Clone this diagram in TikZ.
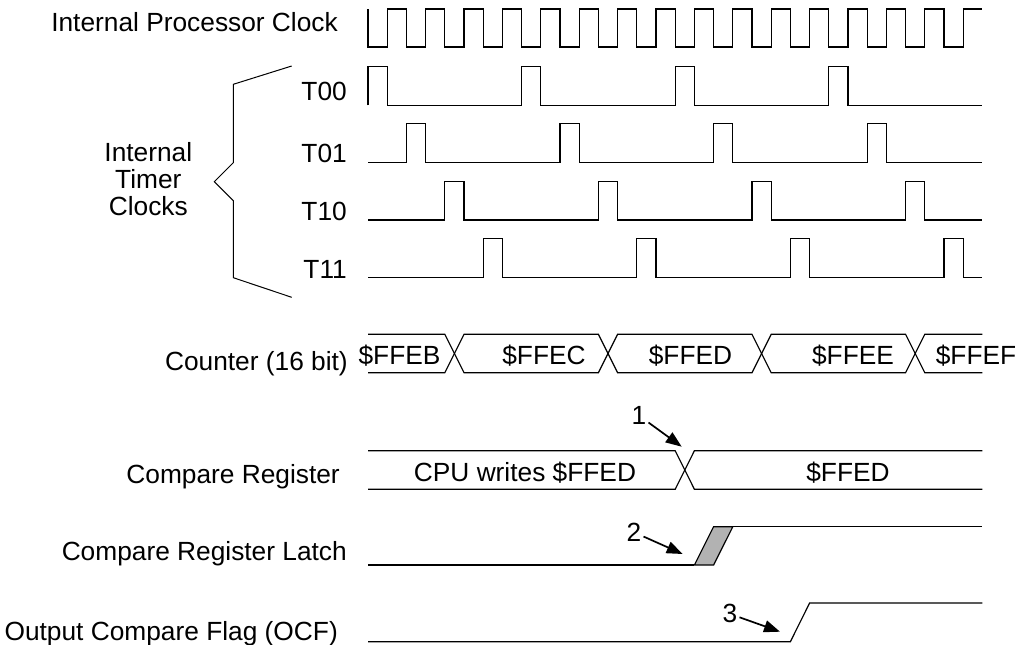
\documentclass[tikz,border=0pt]{standalone}
\usepackage{fontspec}
\setmainfont{Liberation Sans}
\usetikzlibrary{arrows.meta}

\begin{document}
\begin{tikzpicture}[
		x=1pt, y=-1pt,
		signal/.style={draw=black, line width=1.15pt},
		sigtext/.style={inner sep=0pt, anchor=base east, font=\fontsize{26.3}{26.7}\selectfont},
		busval/.style={inner sep=0pt, anchor=base, font=\fontsize{26.3}{26.7}\selectfont},
		stepno/.style={inner sep=2pt, font=\fontsize{26.3}{26.7}\selectfont},
		pointer/.style={line width=1.7pt, -{Triangle[length=16pt, width=12pt]}}
		]
		\useasboundingbox (0, 0) rectangle (1023, 645);

		\node (clock) at (338, 31.7) [sigtext] {Internal Processor Clock};
		\node (timers) at (148.3, 179.2) [sigtext, anchor=center, align=center] {Internal\\Timer\\Clocks};
		\node (counter) at (348, 370) [sigtext] {Counter (16 bit)};
		\node (compare) at (340, 483) [sigtext] {Compare Register};
		\node (latch) at (347, 560) [sigtext] {Compare Register Latch};
		\node (ocf) at (338, 640) [sigtext] {Output Compare Flag (OCF)};

		% processor clock
		\draw[signal] (368, 9) -- (368, 47)
			\foreach \i in {0,...,14} {
				-- ({387.2 + 38.4*\i}, 47) -- ({387.2 + 38.4*\i}, 9)
				-- ({406.4 + 38.4*\i}, 9) -- ({406.4 + 38.4*\i}, 47)}
			-- (963.2, 47) -- (963.2, 9) -- (982.4, 9);

		% timer clocks
		\draw[signal, line width=1pt] (291.7, 66) -- (233.3, 84.3) -- (233.3, 162.7) -- (214.3, 181.7)
			-- (233.3, 200.7) -- (233.3, 277.7) -- (291.7, 297.3);
		\foreach \name/\lo/\k/\ty in {T00/105.3/0/100, T01/162.3/2/162, T10/220/4/220, T11/277.3/6/278} {
			\node (\name) at (347, \ty) [sigtext] {\name};
			\draw[signal] (368, \lo) \foreach \m in {0,...,3} {
				-- ({368 + 19.2*(\k + 8*\m)}, \lo) -- ({368 + 19.2*(\k + 8*\m)}, \lo - 38.4)
				-- ({387.2 + 19.2*(\k + 8*\m)}, \lo - 38.4) -- ({387.2 + 19.2*(\k + 8*\m)}, \lo)}
				-- (982.4, \lo);
		}

		% counter
		\draw[signal] (368, 334.3) -- (444.8, 334.3) -- (454.4, 353.5) -- (444.8, 372.7) -- (368, 372.7);
		\foreach \a/\b in {454.4/608, 608/761.6, 761.6/915.2}
			\draw[signal] (\a, 353.5) -- (\a + 9.6, 334.3) -- (\b - 9.6, 334.3) -- (\b, 353.5)
				-- (\b - 9.6, 372.7) -- (\a + 9.6, 372.7) -- cycle;
		\draw[signal] (982.4, 334.3) -- (924.8, 334.3) -- (915.2, 353.5) -- (924.8, 372.7) -- (982.4, 372.7);
		\node (ffeb) at (399.5, 364) [busval] {\$FFEB};
		\node (ffec) at (544, 364) [busval] {\$FFEC};
		\node (ffed) at (690.5, 364) [busval] {\$FFED};
		\node (ffee) at (853, 364) [busval] {\$FFEE};
		\node (ffef) at (976, 364) [busval] {\$FFEF};

		% compare register
		\draw[signal] (368, 450.7) -- (675.2, 450.7) -- (684.8, 470) -- (675.2, 489.3) -- (368, 489.3);
		\draw[signal] (982.4, 450.7) -- (694.4, 450.7) -- (684.8, 470) -- (694.4, 489.3) -- (982.4, 489.3);
		\node (cpu write) at (525, 481) [busval] {CPU writes \$FFED};
		\node (new value) at (848, 481) [busval] {\$FFED};

		% latch and flag
		\filldraw[signal, fill=black!30] (694.4, 565) -- (713.6, 526.7) -- (732.8, 526.7) -- (713.6, 565) -- cycle;
		\draw[signal] (368, 565) -- (694.4, 565);
		\draw[signal] (713.6, 526.7) -- (982.4, 526.7);
		\draw[signal] (368, 641.7) -- (790.4, 641.7) -- (809.6, 603) -- (982.4, 603);

		\node (step 1) at (639, 415.6) [stepno] {1};
		\node (step 2) at (634, 532.3) [stepno] {2};
		\node (step 3) at (730, 613.9) [stepno] {3};
		\coordinate (tip 1) at (681.7, 446.7);
		\coordinate (tip 2) at (682.7, 554);
		\coordinate (tip 3) at (780, 631.7);
		\draw[pointer] (step 1) -- (tip 1);
		\draw[pointer] (step 2) -- (tip 2);
		\draw[pointer] (step 3) -- (tip 3);
	\end{tikzpicture}
\end{document}
